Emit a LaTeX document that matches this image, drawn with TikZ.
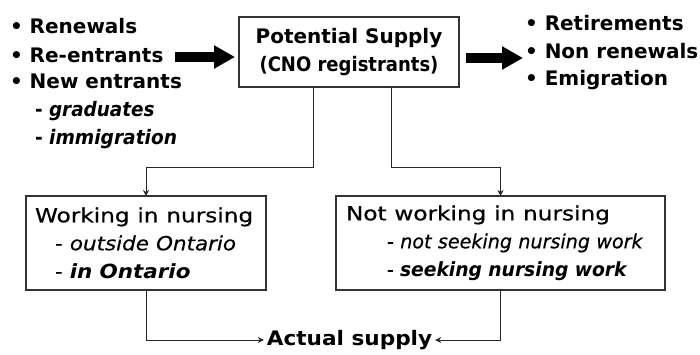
\documentclass[tikz,border=0pt]{standalone}
\usepackage{fontspec}
\usepackage{graphicx}
\setmainfont{DejaVu Sans}
\newfontfamily\medfont{DejaVu Sans}[FakeBold=0.5]
\newfontfamily\plainfont{DejaVu Sans}
\newcommand\hsc[2]{\scalebox{#1}[1]{#2}}
\usetikzlibrary{arrows.meta,calc}
\begin{document}
\begin{tikzpicture}[x=1pt,y=-1pt,
  every node/.style={inner sep=0pt, outer sep=0pt},
  listitem/.style={font=\fontsize{20}{27}\selectfont\bfseries, anchor=base west},
  boxtxt/.style={font=\medfont\fontsize{19.5}{28}\selectfont},
  frame/.style={draw=black!80, line width=1.3pt, align=left, anchor=north west},
  conn/.style={draw=black!85, line width=1pt},
  tip/.style={-{Stealth[length=6pt,width=6pt]}},
  fatarrow/.style={line width=10pt, -{Triangle[length=21pt,width=22pt]}}
]
\useasboundingbox (0,0) rectangle (700,354);
% left list
\node[listitem] (renew) at (10,33) {• Renewals};
\node[listitem] (reent) at (10,62) {• Re-entrants};
\node[listitem] (newent) at (10,88) {• New entrants};
\node[listitem] (grad) at (35,116) {\hsc{0.92}{- \textit{graduates}}};
\node[listitem] (immig) at (35,144) {\hsc{0.93}{- \textit{immigration}}};
% potential supply
\node[frame, anchor=center, minimum width=220pt, minimum height=70pt, align=center,
      font=\fontsize{20}{28}\selectfont\bfseries] (ps) at (349,52)
      {Potential Supply\\\hsc{0.9}{(CNO registrants)}};
% right list
\node[listitem] (retire) at (525,30) {• Retirements};
\node[listitem] (nonren) at (525,58) {• Non renewals};
\node[listitem] (emig) at (525,85) {• Emigration};
% fat arrows
\coordinate (a1) at ($(reent.base east)+(12,-5)$);
\draw[fatarrow, shorten >=4pt] (a1) -- (a1 -| ps.west);
\coordinate (a2) at ($(ps.east)+(7,6)$);
\draw[fatarrow] (a2) -- ($(a2 -| nonren.west)+(-2,0)$);
% lower boxes
\node[frame, boxtxt, minimum width=240pt, minimum height=94pt, text width=222pt, inner xsep=9pt, anchor=center] (wbox) at (146,243)
  {\hsc{1.19}{Working in nursing}\\\hspace*{20pt}\hsc{1.1}{- \textit{outside Ontario}}\\\hspace*{20pt}\hsc{1.1}{- {\plainfont\bfseries\itshape in Ontario}}};
\node[frame, boxtxt, minimum width=329pt, minimum height=94pt, text width=309pt, inner xsep=10pt, anchor=center] (nbox) at (500.5,243)
  {\hsc{1.19}{Not working in nursing}\\\hspace*{41pt}\hsc{0.98}{- \textit{not seeking nursing work}}\\\hspace*{41pt}\hsc{0.96}{- {\plainfont\bfseries\itshape seeking nursing work}}};
% actual supply
\node[font=\fontsize{20}{27}\selectfont\bfseries, inner xsep=3pt] (act) at (349.5,340) {\hsc{1.08}{Actual supply}};
% connectors
\coordinate (e1) at ($(ps.south)+(-36,80)$);
\coordinate (e2) at ($(ps.south)+(42,80)$);
\draw[conn, tip] ($(ps.south)+(-36,0)$) -- (e1) -| (wbox.north);
\draw[conn, tip] ($(ps.south)+(42,0)$) -- (e2) -| (nbox.north);
\draw[conn, tip] (wbox.south) |- (act.west);
\draw[conn, tip] (nbox.south) |- (act.east);
\end{tikzpicture}
\end{document}
